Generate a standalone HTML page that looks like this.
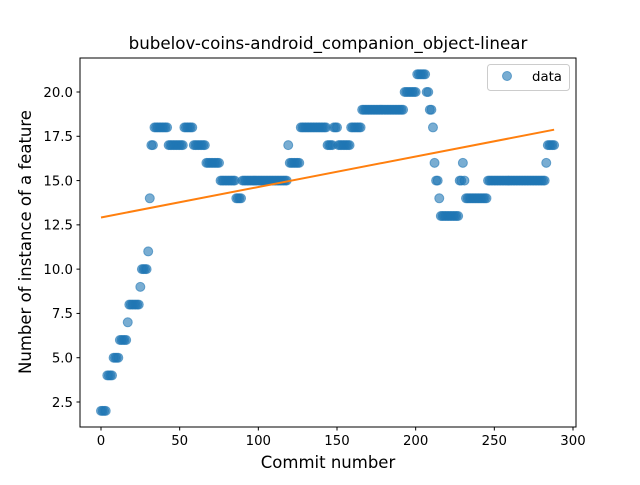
<!DOCTYPE html>
<html><head><meta charset="utf-8"><style>
body{margin:0;background:#fff;}
svg{font-family:"DejaVu Sans","Liberation Sans",sans-serif;}
</style></head><body>
<svg id="chart" width="640" height="480" viewBox="0 0 640 480">
<rect width="640" height="480" fill="#fff"/>
<text x="328" y="49" text-anchor="middle" font-size="16.7">bubelov-coins-android_companion_object-linear</text>
<g id="marks"></g>
<rect x="80" y="58" width="496" height="369" fill="none" stroke="#000" stroke-width="1"/>
<g id="xticks"></g><g id="yticks"></g>
<text x="328" y="468" text-anchor="middle" font-size="16.5">Commit number</text>
<text transform="translate(31,242) rotate(-90)" text-anchor="middle" font-size="16.5">Number of instance of a feature</text>
<g>
<rect x="487.5" y="64.5" width="82" height="26" rx="3" fill="#fff" stroke="#ccc"/>
<circle cx="507" cy="76" r="4.5" fill="#1f77b4" fill-opacity="0.6" stroke="#1f77b4" stroke-opacity="0.6"/>
<text x="532" y="81" font-size="13.3">data</text>
</g>
</svg>
<script>
const runValues=[2,4,5,6,7,8,9,10,11,14,17,18,17,18,17,16,15,14,15,17,16,18,17,18,17,18,19,20,21,20,19,18,16,15,14,13,15,16,15,14,15,16,17];
const runCounts=[4,4,4,5,1,7,1,4,1,1,2,9,10,6,8,9,10,4,29,1,7,17,4,3,8,7,27,8,6,2,2,1,1,2,1,12,2,1,1,14,37,1,5];
const xTicks=[0,50,100,150,200,250,300];
const yTicks=[2.5,5.0,7.5,10.0,12.5,15.0,17.5,20.0];
const yTickLabels=["2.5","5.0","7.5","10.0","12.5","15.0","17.5","20.0"];

const NS="http://www.w3.org/2000/svg";
function xs(v){return 101+v*(472/300);}
function ys(v){return 402-(v-2.5)*(310/17.5);}
const xsArr=[],ysArr=[];
let c=0;
for(let i=0;i<runValues.length;i++){for(let k=0;k<runCounts[i];k++){xsArr.push(c);ysArr.push(runValues[i]);c++;}}
const marks=document.getElementById('marks');
for(let i=0;i<xsArr.length;i++){
  const p=document.createElementNS(NS,'circle');
  p.setAttribute('cx',xs(xsArr[i]));p.setAttribute('cy',ys(ysArr[i]));p.setAttribute('r',4.5);
  p.setAttribute('fill','#1f77b4');p.setAttribute('fill-opacity','0.6');
  p.setAttribute('stroke','#1f77b4');p.setAttribute('stroke-opacity','0.6');
  
  
  marks.appendChild(p);
}
const n=xsArr.length;let sx=0,sy=0,sxx=0,sxy=0;
for(let i=0;i<n;i++){sx+=xsArr[i];sy+=ysArr[i];sxx+=xsArr[i]*xsArr[i];sxy+=xsArr[i]*ysArr[i];}
const b=(n*sxy-sx*sy)/(n*sxx-sx*sx),a=(sy-b*sx)/n;
const x0=xsArr[0],x1=xsArr[n-1];
const ln=document.createElementNS(NS,'line');
ln.setAttribute('x1',xs(x0));ln.setAttribute('y1',ys(a+b*x0));
ln.setAttribute('x2',xs(x1));ln.setAttribute('y2',ys(a+b*x1));
ln.setAttribute('stroke','#ff7f0e');ln.setAttribute('stroke-width','2');


marks.appendChild(ln);
const xt=document.getElementById('xticks');
xTicks.forEach(v=>{
  const l=document.createElementNS(NS,'line');
  l.setAttribute('x1',xs(v));l.setAttribute('x2',xs(v));l.setAttribute('y1',427);l.setAttribute('y2',430.5);l.setAttribute('stroke','#000');
  
  
  xt.appendChild(l);
  const t=document.createElementNS(NS,'text');
  t.setAttribute('x',xs(v));t.setAttribute('y',445);t.setAttribute('text-anchor','middle');t.setAttribute('font-size','13.3');
  t.textContent=v;
  
  
  xt.appendChild(t);
});
const yt=document.getElementById('yticks');
yTicks.forEach((v,i)=>{
  const l=document.createElementNS(NS,'line');
  l.setAttribute('x1',76.5);l.setAttribute('x2',80);l.setAttribute('y1',ys(v));l.setAttribute('y2',ys(v));l.setAttribute('stroke','#000');
  
  
  yt.appendChild(l);
  const t=document.createElementNS(NS,'text');
  t.setAttribute('x',73);t.setAttribute('y',ys(v)+4.8);t.setAttribute('text-anchor','end');t.setAttribute('font-size','13.3');
  t.textContent=yTickLabels[i];
  
  
  yt.appendChild(t);
});
</script>
</body></html>
